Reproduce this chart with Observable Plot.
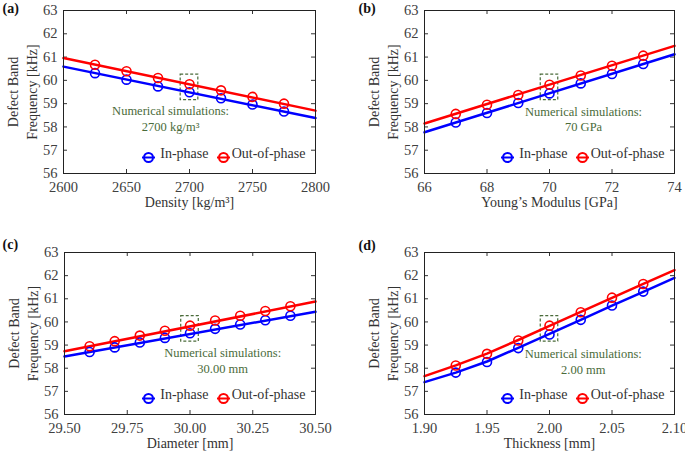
<!DOCTYPE html>
<html>
<head>
<meta charset="utf-8">
<script src="https://cdn.jsdelivr.net/npm/d3@7"></script>
<script src="https://cdn.jsdelivr.net/npm/@observablehq/plot@0.6"></script>
<style>
  html, body { margin: 0; padding: 0; background: #fff; overflow: hidden; }
  #fig { position: relative; width: 685px; height: 455px; background: #fff; }
  #fig svg { position: absolute; overflow: visible; }
  #fig svg, #fig svg text { font-family: 'Liberation Serif', 'Times New Roman', serif !important; }
</style>
</head>
<body>
<div id="fig"></div>
<script>
// ---------- shared ----------
const yTicks = [56, 57, 58, 59, 60, 61, 62, 63];
const seriesNames = ["In-phase", "Out-of-phase"];

// ---------- (a) Density ----------
const densityTicks = [2600, 2650, 2700, 2750, 2800];
const densityX = [2625, 2650, 2675, 2700, 2725, 2750, 2775];
const densityIn = [60.31, 60.03, 59.74, 59.49, 59.23, 58.96, 58.66];
const densityOut = [60.67, 60.39, 60.10, 59.83, 59.57, 59.29, 59.00];
const densityFitX = [2600, 2800];
const densityFitIn = [60.59, 58.38];
const densityFitOut = [60.96, 58.70];
const densityNote = "Numerical simulations:\n2700 kg/m³";

// ---------- (b) Young's modulus ----------
const modulusTicks = [66, 68, 70, 72, 74];
const modulusX = [67, 68, 69, 70, 71, 72, 73];
const modulusIn = [58.19, 58.60, 59.03, 59.44, 59.87, 60.27, 60.70];
const modulusOut = [58.56, 58.95, 59.37, 59.81, 60.21, 60.63, 61.06];
const modulusFitX = [66, 74];
const modulusFitIn = [57.77, 61.12];
const modulusFitOut = [58.15, 61.48];
const modulusNote = "Numerical simulations:\n70 GPa";

// ---------- (c) Diameter ----------
const diameterTicks = [29.5, 29.75, 30.0, 30.25, 30.5];
const diameterX = [29.6, 29.7, 29.8, 29.9, 30.0, 30.1, 30.2, 30.3, 30.4];
const diameterIn = [58.70, 58.90, 59.11, 59.31, 59.51, 59.70, 59.89, 60.07, 60.27];
const diameterOut = [58.95, 59.17, 59.41, 59.62, 59.84, 60.06, 60.27, 60.47, 60.68];
const diameterFitX = [29.5, 30.5];
const diameterFitIn = [58.51, 60.44];
const diameterFitOut = [58.73, 60.88];
const diameterNote = "Numerical simulations:\n30.00 mm";

// ---------- (d) Thickness ----------
const thicknessTicks = [1.9, 1.95, 2.0, 2.05, 2.1];
const thicknessX = [1.925, 1.95, 1.975, 2.0, 2.025, 2.05, 2.075];
const thicknessIn = [57.81, 58.27, 58.87, 59.46, 60.09, 60.71, 61.31];
const thicknessOut = [58.12, 58.62, 59.20, 59.84, 60.42, 61.05, 61.64];
const thicknessFitX = [1.9, 1.925, 1.95, 1.975, 2.0, 2.025, 2.05, 2.075, 2.1];
const thicknessFitIn = [57.40, 57.81, 58.29, 58.88, 59.48, 60.09, 60.70, 61.30, 61.90];
const thicknessFitOut = [57.66, 58.12, 58.63, 59.22, 59.83, 60.43, 61.04, 61.64, 62.24];
const thicknessNote = "Numerical simulations:\n2.00 mm";

const BLUE = "#0000ff", RED = "#ff0000", GREEN = "#4a6b3a", INK = "#333333";
const FONT = "'Liberation Serif', 'Times New Roman', serif";

const legendSymbol = {
  draw(ctx, size) {
    const r = Math.sqrt(size / Math.PI);
    ctx.moveTo(r, 0);
    ctx.arc(0, 0, r, 0, 2 * Math.PI);
    ctx.moveTo(-r - 2, 0);
    ctx.lineTo(r + 2, 0);
  }
};

const panels = [
  {letter: "(a)", left: 0, top: 0, width: 340, mt: 10, mb: 52, ml: 63, mr: 25, ldy: -7, ldx: -61,
   ticks: densityTicks, fmt: d => String(d), xs: densityX, ins: densityIn, outs: densityOut,
   fitX: densityFitX, fitIn: densityFitIn, fitOut: densityFitOut, center: 2700,
   note: densityNote, noteX: 2685, noteY: 58.39, xLabel: "Density [kg/m³]"},
  {letter: "(b)", left: 361, top: 0, width: 324, mt: 10, mb: 52, ml: 63, mr: 11, ldy: -7, ldx: -66,
   ticks: modulusTicks, fmt: d => String(d), xs: modulusX, ins: modulusIn, outs: modulusOut,
   fitX: modulusFitX, fitIn: modulusFitIn, fitOut: modulusFitOut, center: 70,
   note: modulusNote, noteX: 71.09, noteY: 58.36, xLabel: "Young\u2019s Modulus [GPa]"},
  {letter: "(c)", left: 1, top: 230, width: 339, mt: 22, mb: 41, ml: 63, mr: 25, ldy: -13, ldx: -62,
   ticks: diameterTicks, fmt: d3.format(".2f"), xs: diameterX, ins: diameterIn, outs: diameterOut,
   fitX: diameterFitX, fitIn: diameterFitIn, fitOut: diameterFitOut, center: 30.0,
   note: diameterNote, noteX: 30.13, noteY: 58.35, xLabel: "Diameter [mm]"},
  {letter: "(d)", left: 361, top: 230, width: 324, mt: 22, mb: 41, ml: 63, mr: 11, ldy: -12, ldx: -66,
   ticks: thicknessTicks, fmt: d3.format(".2f"), xs: thicknessX, ins: thicknessIn, outs: thicknessOut,
   fitX: thicknessFitX, fitIn: thicknessFitIn, fitOut: thicknessFitOut, center: 2.0,
   note: thicknessNote, noteX: 2.027, noteY: 58.32, xLabel: "Thickness [mm]"}
];

function makePanel(p) {
  const H = 225;
  const fw = p.width - p.ml - p.mr;
  const fh = H - p.mt - p.mb;
  const dom = [p.ticks[0], p.ticks[p.ticks.length - 1]];
  const half = (dom[1] - dom[0]) * 0.035;
  const inPts = p.xs.map((x, i) => ({x, y: p.ins[i]}));
  const outPts = p.xs.map((x, i) => ({x, y: p.outs[i]}));
  const inFit = p.fitX.map((x, i) => ({x, y: p.fitIn[i]}));
  const outFit = p.fitX.map((x, i) => ({x, y: p.fitOut[i]}));
  const innerTicks = p.ticks.slice(1, -1);
  const innerY = yTicks.slice(1, -1);

  const svg = Plot.plot({
    width: p.width, height: H,
    marginTop: p.mt, marginBottom: p.mb, marginLeft: p.ml, marginRight: p.mr,
    style: {fontFamily: FONT, fontSize: "14px", color: "#404040", background: "white", overflow: "visible"},
    x: {domain: dom},
    y: {domain: [56, 63]},
    marks: [
      // inward ticks
      Plot.tickY(innerY, {y: d => d, insetRight: fw - 4, stroke: INK, strokeWidth: 1}),
      Plot.tickY(innerY, {y: d => d, insetLeft: fw - 4, stroke: INK, strokeWidth: 1}),
      Plot.tickX(innerTicks, {x: d => d, insetTop: fh - 4, stroke: INK, strokeWidth: 1}),
      Plot.tickX(innerTicks, {x: d => d, insetBottom: fh - 4, stroke: INK, strokeWidth: 1}),
      Plot.axisY({ticks: yTicks, tickSize: 0, tickPadding: 6, tickFormat: d => String(d), label: null, fontSize: 14.5, fontFamily: FONT}),
      Plot.axisX({ticks: p.ticks, tickSize: 0, tickPadding: 8, tickFormat: p.fmt, label: null, fontSize: 14.5, fontFamily: FONT}),
      // dashed box around the simulated point
      Plot.rect([{x1: p.center - half, x2: p.center + half, y1: 59.15, y2: 60.25}],
        {x1: "x1", x2: "x2", y1: "y1", y2: "y2", fill: "none", stroke: GREEN, strokeWidth: 1.2, strokeDasharray: "3,2"}),
      Plot.text([{x: p.noteX, y: p.noteY, t: p.note}],
        {x: "x", y: "y", text: "t", fill: GREEN, fontSize: 12.5, lineHeight: 1.25, lineAnchor: "middle", fontFamily: FONT}),
      // fitted lines
      Plot.line(inFit, {x: "x", y: "y", stroke: BLUE, strokeWidth: 2.5}),
      Plot.line(outFit, {x: "x", y: "y", stroke: RED, strokeWidth: 2.5}),
      // simulated points
      Plot.dot(inPts, {x: "x", y: "y", r: 4.5, stroke: BLUE, strokeWidth: 1.6, fill: "none"}),
      Plot.dot(outPts, {x: "x", y: "y", r: 4.5, stroke: RED, strokeWidth: 1.6, fill: "none"}),
      // legend
      Plot.dot([0], {frameAnchor: "bottom-right", dx: -167, dy: -16, symbol: legendSymbol, r: 4.5, stroke: BLUE, strokeWidth: 2, fill: "none"}),
      Plot.text([seriesNames[0]], {frameAnchor: "bottom-right", dx: -107, dy: -16, textAnchor: "end", fontSize: 14, fill: INK, fontFamily: FONT}),
      Plot.dot([0], {frameAnchor: "bottom-right", dx: -92, dy: -16, symbol: legendSymbol, r: 4.5, stroke: RED, strokeWidth: 2, fill: "none"}),
      Plot.text([seriesNames[1]], {frameAnchor: "bottom-right", dx: -10, dy: -16, textAnchor: "end", fontSize: 14, fill: INK, fontFamily: FONT}),
      // axis titles
      Plot.text([p.xLabel], {frameAnchor: "bottom", dy: 33, fontSize: 14, fill: INK, fontFamily: FONT}),
      Plot.text(["Defect Band\nFrequency [kHz]"], {frameAnchor: "left", dx: -42, rotate: -90, textAnchor: "middle", fontSize: 14, lineHeight: 1.35, lineAnchor: "middle", fill: INK, fontFamily: FONT}),
      // panel letter
      Plot.text([p.letter], {frameAnchor: "top-left", dx: p.ldx, dy: p.ldy, textAnchor: "start", lineAnchor: "top", fontSize: 14, fontWeight: "bold", fill: "#111", fontFamily: FONT}),
      Plot.frame({stroke: "#222", strokeWidth: 1})
    ]
  });
  svg.style.left = p.left + "px";
  svg.style.top = p.top + "px";
  return svg;
}

const fig = document.getElementById("fig");
for (const p of panels) fig.appendChild(makePanel(p));
</script>
</body>
</html>
